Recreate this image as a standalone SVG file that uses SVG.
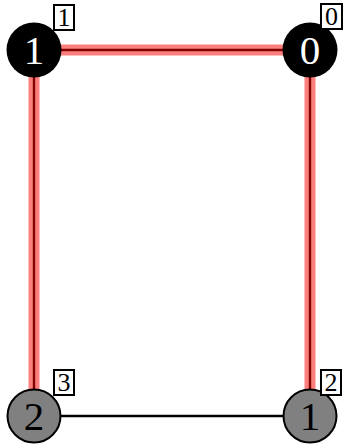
<svg xmlns="http://www.w3.org/2000/svg" width="349" height="446" viewBox="0 0 349 446">
  <style>
    .hl { stroke: #ff0000; stroke-opacity: 0.5; stroke-width: 11; fill: none; }
    .edge { stroke: #000000; stroke-width: 2.4; fill: none; }
    .nblack { fill: #000000; }
    .ngray { fill: #808080; stroke: #000000; stroke-width: 2; }
    .num { font-family: "Liberation Serif", "DejaVu Serif", serif; font-size: 41px; text-anchor: middle; }
    .lbox { fill: #ffffff; stroke: #000000; stroke-width: 2; }
    .ltxt { font-family: "Liberation Serif", "DejaVu Serif", serif; font-size: 26px; text-anchor: middle; fill: #000000; }
  </style>
  <g id="connectors">
    <line class="edge" x1="34" y1="50" x2="310" y2="50"/>
    <line class="edge" x1="34" y1="50" x2="34" y2="416"/>
    <line class="edge" x1="310" y1="50" x2="310" y2="416"/>
    <line class="edge" x1="34" y1="416" x2="310" y2="416"/>
    <line class="hl" x1="34" y1="50" x2="310" y2="50"/>
    <line class="hl" x1="34" y1="50" x2="34" y2="416"/>
    <line class="hl" x1="310" y1="50" x2="310" y2="416"/>
  </g>
  <g id="node-tl">
    <circle class="nblack" cx="34" cy="50" r="27.5"/>
    <text class="num" x="34" y="64" fill="#ffffff">1</text>
    <rect class="lbox" x="54" y="5" width="20" height="25"/>
    <text class="ltxt" x="64" y="26">1</text>
  </g>
  <g id="node-tr">
    <circle class="nblack" cx="310" cy="50" r="27.5"/>
    <text class="num" x="310" y="64" fill="#ffffff">0</text>
    <rect class="lbox" x="321" y="4" width="21" height="25"/>
    <text class="ltxt" x="331.5" y="25">0</text>
  </g>
  <g id="node-bl">
    <circle class="ngray" cx="34" cy="416" r="26.5"/>
    <text class="num" x="34" y="430" fill="#000000">2</text>
    <rect class="lbox" x="54" y="370" width="20" height="25"/>
    <text class="ltxt" x="64" y="391">3</text>
  </g>
  <g id="node-br">
    <circle class="ngray" cx="310" cy="416" r="26.5"/>
    <text class="num" x="310" y="430" fill="#000000">1</text>
    <rect class="lbox" x="321" y="370" width="20" height="25"/>
    <text class="ltxt" x="331" y="391">2</text>
  </g>
</svg>
